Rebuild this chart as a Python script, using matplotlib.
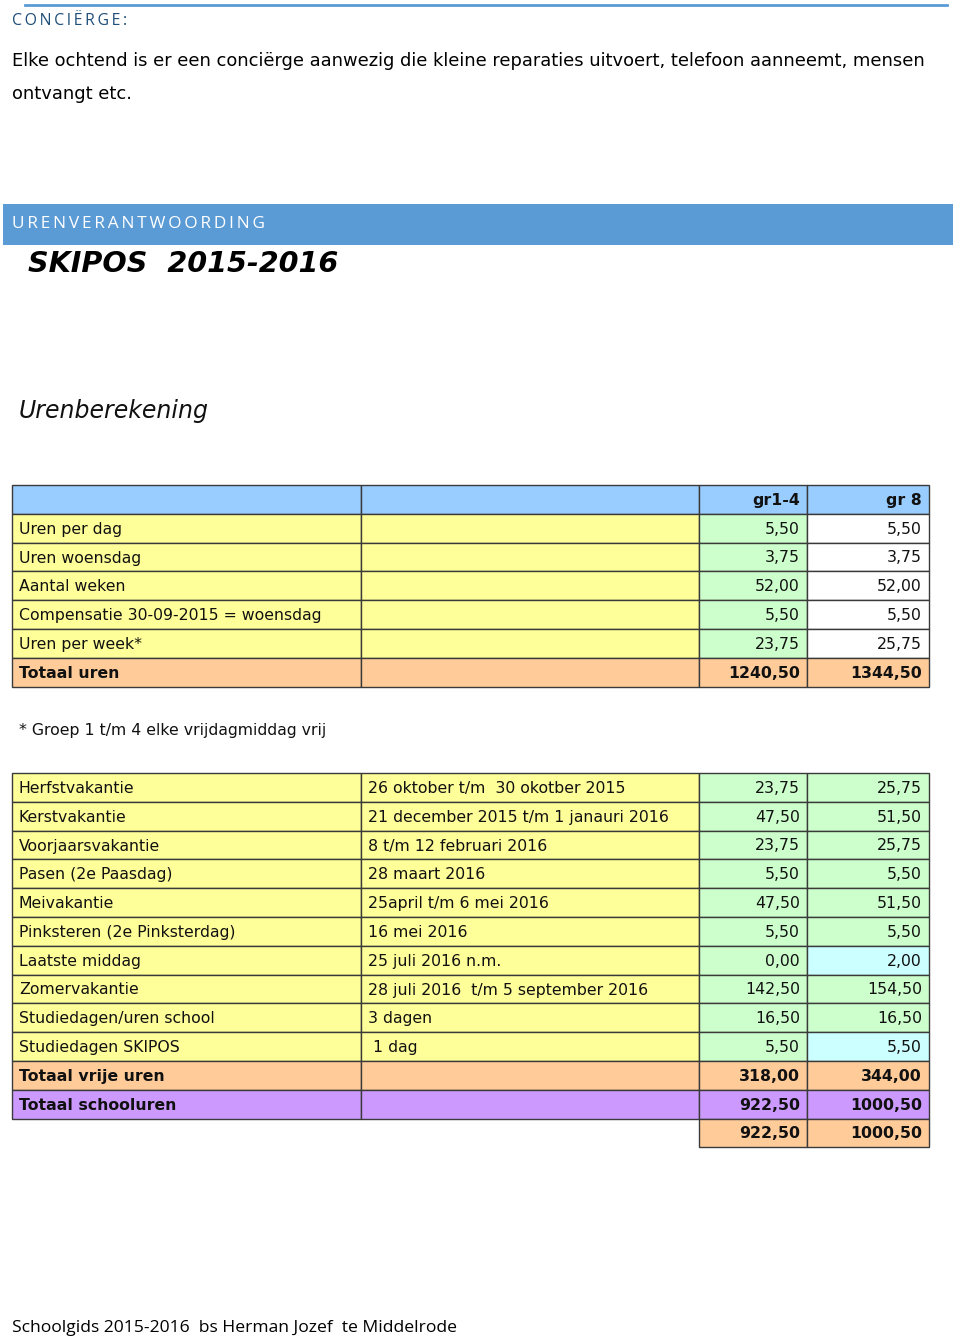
import matplotlib
matplotlib.use("Agg")
import matplotlib.pyplot as plt
from matplotlib.patches import Rectangle

# ---- data -------------------------------------------------------------
header_cols = ["", "", "gr1-4", "gr 8"]

uren_labels = ["Uren per dag", "Uren woensdag", "Aantal weken",
               "Compensatie 30-09-2015 = woensdag", "Uren per week*",
               "Totaal uren"]
uren_gr14 = [5.50, 3.75, 52.00, 5.50, 23.75, 1240.50]
uren_gr8 = [5.50, 3.75, 52.00, 5.50, 25.75, 1344.50]

vrij_labels = ["Herfstvakantie", "Kerstvakantie", "Voorjaarsvakantie",
               "Pasen (2e Paasdag)", "Meivakantie",
               "Pinksteren (2e Pinksterdag)", "Laatste middag",
               "Zomervakantie", "Studiedagen/uren school",
               "Studiedagen SKIPOS", "Totaal vrije uren",
               "Totaal schooluren"]
vrij_periods = ["26 oktober t/m  30 okotber 2015",
                "21 december 2015 t/m 1 janauri 2016",
                "8 t/m 12 februari 2016", "28 maart 2016",
                "25april t/m 6 mei 2016", "16 mei 2016",
                "25 juli 2016 n.m.", "28 juli 2016  t/m 5 september 2016",
                "3 dagen", " 1 dag", "", ""]
vrij_gr14 = [23.75, 47.50, 23.75, 5.50, 47.50, 5.50, 0.00, 142.50,
             16.50, 5.50, 318.00, 922.50]
vrij_gr8 = [25.75, 51.50, 25.75, 5.50, 51.50, 5.50, 2.00, 154.50,
            16.50, 5.50, 344.00, 1000.50]
slot_gr14 = 922.50
slot_gr8 = 1000.50

# ---- colours -----------------------------------------------------------
BLUE = "#99ccff"
YELLOW = "#ffff99"
GREEN = "#ccffcc"
ORANGE = "#ffcc99"
PURPLE = "#cc99ff"
CYAN = "#ccffff"
WHITE = "#ffffff"
EDGE = "#3a3a3a"
BAND = "#5b9bd5"

TABLE_FONT = "DejaVu Sans"
FS = 11.3

col_x = [12, 361, 699, 807, 929]
ROW_H = 28.8


def fmt(v):
    return f"{v:.2f}".replace(".", ",")


def cell(ax, c, y, color):
    ax.add_patch(Rectangle((col_x[c], y), col_x[c + 1] - col_x[c], ROW_H,
                           facecolor=color, edgecolor=EDGE, lw=1.0))


def left_text(ax, c, y, s, bold=False):
    ax.text(col_x[c] + 7, y + ROW_H / 2 + 1, s, ha="left", va="center",
            fontsize=FS, family=TABLE_FONT,
            fontweight="bold" if bold else "normal", color="#111111")


def right_text(ax, c, y, s, bold=False):
    ax.text(col_x[c + 1] - 7, y + ROW_H / 2 + 1, s, ha="right",
            va="center", fontsize=FS, family=TABLE_FONT,
            fontweight="bold" if bold else "normal", color="#111111")


fig = plt.figure(figsize=(9.6, 13.4), dpi=100)
ax = fig.add_axes([0, 0, 1, 1])
ax.set_xlim(0, 960)
ax.set_ylim(1340, 0)
ax.axis("off")

# ---- page text ---------------------------------------------------------
ax.plot([25, 947], [5, 5], color=BAND, lw=2)
ax.text(12, 21, "\u2009".join("CONCIËRGE:"), ha="left",
        va="center", fontsize=11.4, family="Open Sans", color="#1f4e79")
ax.text(12, 61, "Elke ochtend is er een conciërge aanwezig die kleine "
        "reparaties uitvoert, telefoon aanneemt, mensen",
        ha="left", va="center", fontsize=12.9, family="DejaVu Sans",
        color="black")
ax.text(12, 94, "ontvangt etc.", ha="left", va="center", fontsize=12.9,
        family="DejaVu Sans", color="black")

ax.add_patch(Rectangle((3, 204), 950, 41, facecolor=BAND, edgecolor="none"))
ax.text(12, 224, "\u2009".join("URENVERANTWOORDING"), ha="left",
        va="center", fontsize=12.4, family="Open Sans", color="white")

ax.text(28, 264, "SKIPOS  2015-2016", ha="left", va="center", fontsize=20.6,
        family="DejaVu Sans", fontweight="bold", fontstyle="oblique",
        color="black")
ax.text(19, 411, "Urenberekening", ha="left", va="center", fontsize=17,
        family="DejaVu Sans", fontstyle="oblique", color="#111111")

# ---- table 1 -----------------------------------------------------------
y = 485
for c in range(4):
    cell(ax, c, y, BLUE)
right_text(ax, 2, y, header_cols[2], bold=True)
right_text(ax, 3, y, header_cols[3], bold=True)

for i, lab in enumerate(uren_labels):
    y = 485 + ROW_H * (i + 1)
    total = lab.startswith("Totaal")
    colors = [ORANGE] * 4 if total else [YELLOW, YELLOW, GREEN, WHITE]
    for c in range(4):
        cell(ax, c, y, colors[c])
    left_text(ax, 0, y, lab, bold=total)
    right_text(ax, 2, y, fmt(uren_gr14[i]), bold=total)
    right_text(ax, 3, y, fmt(uren_gr8[i]), bold=total)

ax.text(19, 731, "* Groep 1 t/m 4 elke vrijdagmiddag vrij", ha="left",
        va="center", fontsize=FS, family=TABLE_FONT, color="#111111")

# ---- table 2 -----------------------------------------------------------
for i, lab in enumerate(vrij_labels):
    y = 773 + ROW_H * i
    if lab == "Totaal vrije uren":
        colors = [ORANGE] * 4
    elif lab == "Totaal schooluren":
        colors = [PURPLE] * 4
    elif lab in ("Laatste middag", "Studiedagen SKIPOS"):
        colors = [YELLOW, YELLOW, GREEN, CYAN]
    else:
        colors = [YELLOW, YELLOW, GREEN, GREEN]
    bold = lab.startswith("Totaal")
    for c in range(4):
        cell(ax, c, y, colors[c])
    left_text(ax, 0, y, lab, bold=bold)
    left_text(ax, 1, y, vrij_periods[i])
    right_text(ax, 2, y, fmt(vrij_gr14[i]), bold=bold)
    right_text(ax, 3, y, fmt(vrij_gr8[i]), bold=bold)

y = 773 + ROW_H * len(vrij_labels)
cell(ax, 2, y, ORANGE)
cell(ax, 3, y, ORANGE)
right_text(ax, 2, y, fmt(slot_gr14), bold=True)
right_text(ax, 3, y, fmt(slot_gr8), bold=True)

# ---- footer ------------------------------------------------------------
ax.text(12, 1328, "Schoolgids 2015-2016  bs Herman Jozef  te Middelrode",
        ha="left", va="center", fontsize=12.6, family="Open Sans",
        color="black")

fig.savefig("out.png", dpi=100)
